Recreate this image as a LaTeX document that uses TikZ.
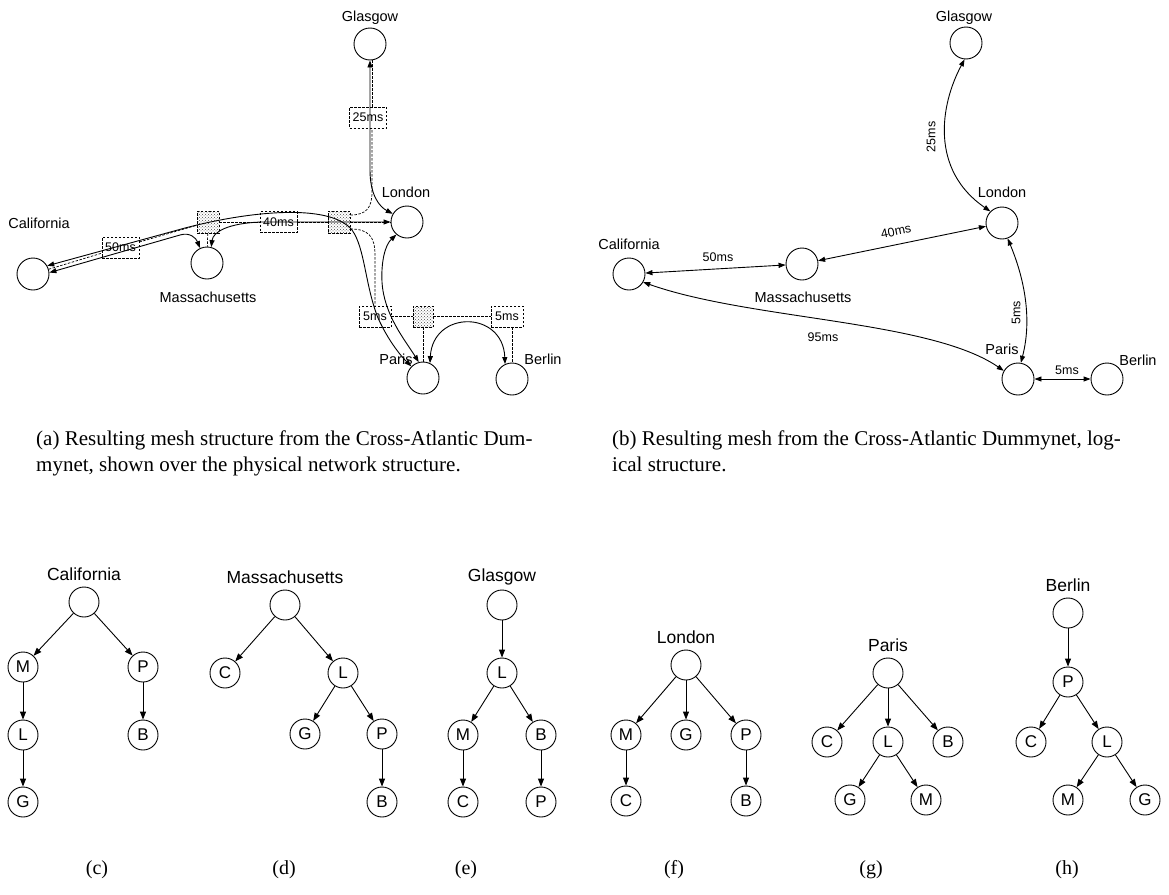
\documentclass[tikz,border=0pt]{standalone}
\usepackage{fontspec}
\setmainfont{Liberation Serif}
\setsansfont{Liberation Sans}
\usetikzlibrary{arrows.meta,patterns}

\begin{document}
\begin{tikzpicture}[x=1pt,y=-1pt,
  city/.style={circle,draw,line width=0.9pt,minimum size=32pt,inner sep=0pt},
  cname/.style={font=\sffamily\fontsize{14.5}{16}\selectfont,inner sep=0pt},
  delay/.style={draw,dash pattern=on 2.5pt off 1.5pt,line width=0.7pt,minimum width=37pt,minimum height=21pt,inner sep=0pt,font=\sffamily\fontsize{12.5}{14}\selectfont},
  hub/.style={draw,dash pattern=on 2.5pt off 1.5pt,line width=0.7pt,minimum width=22pt,minimum height=22pt,inner sep=0pt,pattern=crosshatch dots,pattern color=black!70},
  phys/.style={dash pattern=on 2.5pt off 1.5pt,line width=0.7pt},
  link/.style={{Triangle[length=7pt,width=5pt]}-{Triangle[length=7pt,width=5pt]},line width=0.9pt},
  lat/.style={font=\sffamily\fontsize{12.5}{14}\selectfont,inner sep=0pt},
  tnode/.style={circle,draw,line width=0.9pt,minimum size=30pt,inner sep=0pt,font=\sffamily\fontsize{17}{19}\selectfont},
  tname/.style={font=\sffamily\fontsize{17.5}{20}\selectfont,inner sep=0pt},
  tedge/.style={-{Triangle[length=8pt,width=6pt]},line width=0.9pt},
  capbox/.style={font=\fontsize{21}{26}\selectfont,anchor=north west,inner sep=0pt,align=left},
  subcap/.style={font=\fontsize{20}{24}\selectfont,inner sep=0pt}
]
\useasboundingbox (0,0) rectangle (1169,894);

% ---------------- (a) physical view ----------------
\node[city] (gA) at (370,44) {};
\node[city] (lA) at (407,222) {};
\node[city] (cA) at (33,274) {};
\node[city] (mA) at (207,263) {};
\node[city] (pA) at (423,378) {};
\node[city] (bA) at (512,379) {};
\node[cname] (gAl) at (370,18) {Glasgow};
\node[cname] (lAl) at (406,192) {London};
\node[cname] (cAl) at (39,223) {California};
\node[cname] (mAl) at (208,297) {Massachusetts};
\node[cname] (pAl) at (396,359) {Paris};
\node[cname] (bAl) at (543,359) {Berlin};

\node[delay] (d50) at (120.5,247.5) {50ms};
\node[hub]   (hM)  at (208,222) {};
\node[delay] (d40) at (278.5,222) {40ms};
\node[hub]   (hL)  at (339,222) {};
\node[delay] (d25) at (368,117.5) {25ms};
\node[delay, minimum width=32pt] (d5a) at (375,316.5) {5ms};
\node[hub, minimum width=20pt, minimum height=21pt] (hP) at (423,316.5) {};
\node[delay, minimum width=32pt] (d5b) at (507,316.5) {5ms};

\coordinate (gx) at (372,0);
\coordinate (px) at (375,0);

% physical links
\draw[phys] (cA) -- (d50) -- (hM);
\draw[phys] (hM) -- (mA);
\draw[phys] (hM) -- (d40) -- (hL) -- (lA);
\draw[phys] ([yshift=7pt]hL.east) .. controls (366,215) and (372,208) .. (372,192) -- (d25.south -| gx);
\draw[phys] (d25.north -| gx) -- (gA.south -| gx);
\draw[phys] ([yshift=-7pt]hL.east) .. controls (368,229) and (375,236) .. (375,255) -- (d5a.north -| px);
\draw[phys] (d5a) -- (hP) -- (d5b);
\draw[phys] (hP) -- (pA);
\draw[phys] (d5b.south -| bA) -- (bA);

% overlay links
\draw[link] (cA.30) -- (185,228) .. controls (250,211) and (330,203) .. (352,230)
   .. controls (365,248) and (365,285) .. (378,318) .. controls (388,340) and (400,355) .. (pA.135);
\draw[link] (cA.5) -- (180,235) .. controls (190,232) and (196,238) .. (mA.115);
\draw[link] (mA.75) .. controls (213,232) and (228,223) .. (262,222) -- (lA.west);
\draw[link] (gA.south) -- (370,170) .. controls (370,196) and (380,207) .. (lA.150);
\draw[link] (lA.230) .. controls (385,245) and (381,262) .. (382,282)
   .. controls (384,315) and (405,340) .. (pA.105);
\draw[link] (pA.65) .. controls (433,310) and (503,310) .. (bA.115);

% ---------------- (b) logical view ----------------
\node[city] (gB) at (966,43) {};
\node[city] (lB) at (1002,223) {};
\node[city] (cB) at (629,274) {};
\node[city] (mB) at (802,264) {};
\node[city] (pB) at (1018,379) {};
\node[city] (bB) at (1107,379) {};
\node[cname] (gBl) at (964,18) {Glasgow};
\node[cname] (lBl) at (1002,192) {London};
\node[cname] (cBl) at (629,244) {California};
\node[cname] (mBl) at (803,297) {Massachusetts};
\node[cname] (pBl) at (1002,349) {Paris};
\node[cname] (bBl) at (1138,360) {Berlin};

\draw[link] (cB) -- (mB);
\draw[link] (mB) -- (lB);
\draw[link] (gB.265) .. controls (940,105) and (930,170) .. (lB.135);
\draw[link] (lB.290) .. controls (1025,280) and (1032,320) .. (pB.80);
\draw[link] (cB.330) .. controls (750,320) and (930,320) .. (pB.150);
\draw[link] (pB) -- (bB);

\node[lat] (l50b) at (718,257) {50ms};
\node[lat,rotate=11.6] (l40b) at (896,231.5) {40ms};
\node[lat,rotate=90] (l25b) at (931,137) {25ms};
\node[lat,rotate=90] (l5b) at (1016,313) {5ms};
\node[lat] (l95b) at (823,337) {95ms};
\node[lat] (l5c) at (1067,370) {5ms};

% ---------------- captions of the two views ----------------
\node[capbox] (capa) at (36,431) {(a) Resulting mesh structure from the Cross-Atlantic Dum-\\mynet, shown over the physical network structure.};
\node[capbox] (capb) at (612,431) {(b) Resulting mesh from the Cross-Atlantic Dummynet, log-\\ical structure.};

% ---------------- (c) California ----------------
\node[tnode] (c0) at (84,602) {};
\node[tname] (c0l) at (84,574) {California};
\node[tnode] (cM) at (23,667) {M};
\node[tnode] (cL) at (23,735) {L};
\node[tnode] (cG) at (23,802) {G};
\node[tnode] (cP) at (143,667) {P};
\node[tnode] (cBn) at (143,735) {B};
\draw[tedge] (c0) -- (cM);
\draw[tedge] (c0) -- (cP);
\draw[tedge] (cM) -- (cL);
\draw[tedge] (cL) -- (cG);
\draw[tedge] (cP) -- (cBn);

% ---------------- (d) Massachusetts ----------------
\node[tnode] (d0) at (285,605) {};
\node[tname] (d0l) at (285,577) {Massachusetts};
\node[tnode] (dC) at (225,673) {C};
\node[tnode] (dL) at (343,673) {L};
\node[tnode] (dG) at (305,734) {G};
\node[tnode] (dP) at (382,734) {P};
\node[tnode] (dB) at (382,802) {B};
\draw[tedge] (d0) -- (dC);
\draw[tedge] (d0) -- (dL);
\draw[tedge] (dL) -- (dG);
\draw[tedge] (dL) -- (dP);
\draw[tedge] (dP) -- (dB);

% ---------------- (e) Glasgow ----------------
\node[tnode] (e0) at (502,605) {};
\node[tname] (e0l) at (502,577) {Glasgow};
\node[tnode] (eL) at (502,673) {L};
\node[tnode] (eM) at (463,735) {M};
\node[tnode] (eB) at (541,735) {B};
\node[tnode] (eC) at (463,802) {C};
\node[tnode] (eP) at (541,802) {P};
\draw[tedge] (e0) -- (eL);
\draw[tedge] (eL) -- (eM);
\draw[tedge] (eL) -- (eB);
\draw[tedge] (eM) -- (eC);
\draw[tedge] (eB) -- (eP);

% ---------------- (f) London ----------------
\node[tnode] (f0) at (686,665) {};
\node[tname] (f0l) at (686,637) {London};
\node[tnode] (fM) at (626,735) {M};
\node[tnode] (fG) at (686,735) {G};
\node[tnode] (fP) at (746,735) {P};
\node[tnode] (fC) at (626,801) {C};
\node[tnode] (fB) at (746,801) {B};
\draw[tedge] (f0) -- (fM);
\draw[tedge] (f0) -- (fG);
\draw[tedge] (f0) -- (fP);
\draw[tedge] (fM) -- (fC);
\draw[tedge] (fP) -- (fB);

% ---------------- (g) Paris ----------------
\node[tnode] (g0) at (888,673) {};
\node[tname] (g0l) at (888,645) {Paris};
\node[tnode] (gC) at (827,742) {C};
\node[tnode] (gL) at (888,742) {L};
\node[tnode] (gBn) at (948,742) {B};
\node[tnode] (gG) at (850,800) {G};
\node[tnode] (gM) at (926,800) {M};
\draw[tedge] (g0) -- (gC);
\draw[tedge] (g0) -- (gL);
\draw[tedge] (g0) -- (gBn);
\draw[tedge] (gL) -- (gG);
\draw[tedge] (gL) -- (gM);

% ---------------- (h) Berlin ----------------
\node[tnode] (h0) at (1068,613) {};
\node[tname] (h0l) at (1068,585) {Berlin};
\node[tnode] (hPn) at (1068,682) {P};
\node[tnode] (hC) at (1031,742) {C};
\node[tnode] (hLn) at (1107,742) {L};
\node[tnode] (hM2) at (1068,800) {M};
\node[tnode] (hG) at (1145,800) {G};
\draw[tedge] (h0) -- (hPn);
\draw[tedge] (hPn) -- (hC);
\draw[tedge] (hPn) -- (hLn);
\draw[tedge] (hLn) -- (hM2);
\draw[tedge] (hLn) -- (hG);

% ---------------- sub-captions ----------------
\node[subcap] (sc) at (97,870) {(c)};
\node[subcap] (sd) at (284,870) {(d)};
\node[subcap] (se) at (466,870) {(e)};
\node[subcap] (sf) at (674,870) {(f)};
\node[subcap] (sg) at (871,870) {(g)};
\node[subcap] (sh) at (1067,870) {(h)};
\end{tikzpicture}
\end{document}
